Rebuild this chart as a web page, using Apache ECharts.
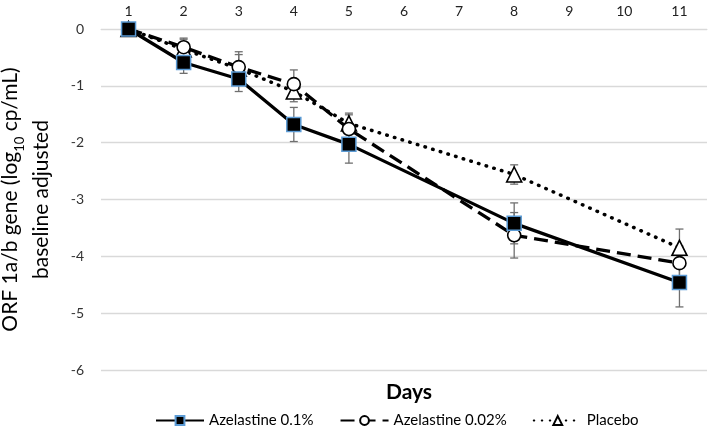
<!DOCTYPE html>
<html>
<head>
<meta charset="utf-8">
<script src="https://cdn.jsdelivr.net/npm/echarts@6/dist/echarts.min.js"></script>
<style>html,body{margin:0;padding:0;background:#fff}#c{width:709px;height:443px}</style>
</head>
<body>
<div id="c"></div>
<script>
const days = ['1','2','3','4','5','6','7','8','9','10','11'];
const yTicks = [0,-1,-2,-3,-4,-5,-6];
const seriesNames = ['Azelastine 0.1%','Azelastine 0.02%','Placebo'];
// values (null = no measurement)
const aze01 = [0,-0.59,-0.88,-1.68,-2.03,null,null,-3.42,null,null,-4.46];
const aze002 = [0,-0.32,-0.67,-0.97,-1.76,null,null,-3.63,null,null,-4.12];
const placebo = [0,-0.36,-0.70,-1.10,-1.66,null,null,-2.56,null,null,-3.85];
// error bar half-widths
const err01 = [0,0.19,0.22,0.30,0.33,null,null,0.36,null,null,0.43];
const err002 = [0,0.16,0.27,0.25,0.25,null,null,0.40,null,null,0.30];
const errPl = [0,0.18,0.25,0.18,0.18,null,null,0.17,null,null,0.33];

const chart = echarts.init(document.getElementById('c'));
const font = 'Lato, "Open Sans", sans-serif';

function errData(vals, errs){
  const out = [];
  vals.forEach((v,i)=>{ if(v!==null && errs[i]!==null) out.push([i, v-errs[i], v+errs[i]]); });
  return out;
}
function errSeries(vals, errs, z){
  return {
    type:'custom', z:z, silent:true, legendHoverLink:false,
    data: errData(vals, errs),
    encode:{x:0, y:[1,2]},
    renderItem:function(params, api){
      const x = api.value(0);
      const lo = api.coord([x, api.value(1)]);
      const hi = api.coord([x, api.value(2)]);
      const w = 4;
      const st = {stroke:'#6f6f6f', lineWidth:1.3};
      return {type:'group', children:[
        {type:'line', shape:{x1:lo[0],y1:lo[1],x2:hi[0],y2:hi[1]}, style:st},
        {type:'line', shape:{x1:lo[0]-w,y1:lo[1],x2:lo[0]+w,y2:lo[1]}, style:st},
        {type:'line', shape:{x1:hi[0]-w,y1:hi[1],x2:hi[0]+w,y2:hi[1]}, style:st}
      ]};
    }
  };
}

chart.setOption({
  animation:false,
  backgroundColor:'#fff',
  grid:{left:101, right:2, top:29, bottom:73, containLabel:false, outerBoundsMode:'none'},
  title:{text:'Days', left:404, top:377, textAlign:'center',
    textStyle:{fontFamily:font, fontSize:21, fontWeight:'bold', color:'#000'}},
  legend:{
    bottom:10, left:150, itemWidth:48, itemHeight:11, itemGap:26,
    data:seriesNames,
    textStyle:{fontFamily:font, fontSize:15, color:'#000'}
  },
  xAxis:{
    type:'category', position:'top', data:days, boundaryGap:true,
    axisLine:{show:true, lineStyle:{color:'#d9d9d9'}}, axisTick:{show:false},
    axisLabel:{fontFamily:font, fontSize:14, color:'#222', margin:11}
  },
  yAxis:{
    type:'value', min:-6, max:0, interval:1,
    axisLine:{show:false}, axisTick:{show:false},
    axisLabel:{fontFamily:font, fontSize:14, color:'#333', margin:17},
    splitLine:{lineStyle:{color:'#d9d9d9', width:1.3}},
    name:'{a|ORF 1a/b gene (log}{s|10}{a| cp/mL)}\n{a|baseline adjusted}',
    nameLocation:'middle', nameRotate:90, nameGap:44,
    nameTextStyle:{fontFamily:font, color:'#000', lineHeight:31,
      rich:{a:{fontFamily:font, fontSize:21, color:'#000', lineHeight:31},
            s:{fontFamily:font, fontSize:13, color:'#000', verticalAlign:'bottom', lineHeight:31, padding:[10,0,0,0]}}}
  },
  series:[
    errSeries(placebo, errPl, 1),
    errSeries(aze002, err002, 1),
    errSeries(aze01, err01, 1),
    {name:'Placebo', type:'line', z:3, data:placebo, connectNulls:true,
      symbol:'triangle', symbolSize:15, showAllSymbol:true,
      lineStyle:{color:'#000', width:3.5, type:[0.5,7.5], cap:'round'},
      itemStyle:{color:'#fff', borderColor:'#000', borderWidth:1.6}},
    {name:'Azelastine 0.02%', type:'line', z:4, data:aze002, connectNulls:true,
      symbol:'circle', symbolSize:13, showAllSymbol:true,
      lineStyle:{color:'#000', width:3.3, type:[14,7]},
      itemStyle:{color:'#fff', borderColor:'#000', borderWidth:1.6}},
    {name:'Azelastine 0.1%', type:'line', z:5, data:aze01, connectNulls:true,
      symbol:'rect', symbolSize:14, showAllSymbol:true,
      lineStyle:{color:'#000', width:3.3},
      itemStyle:{color:'#000', borderColor:'#5b9bd5', borderWidth:1.5}}
  ]
});
</script>
</body>
</html>
